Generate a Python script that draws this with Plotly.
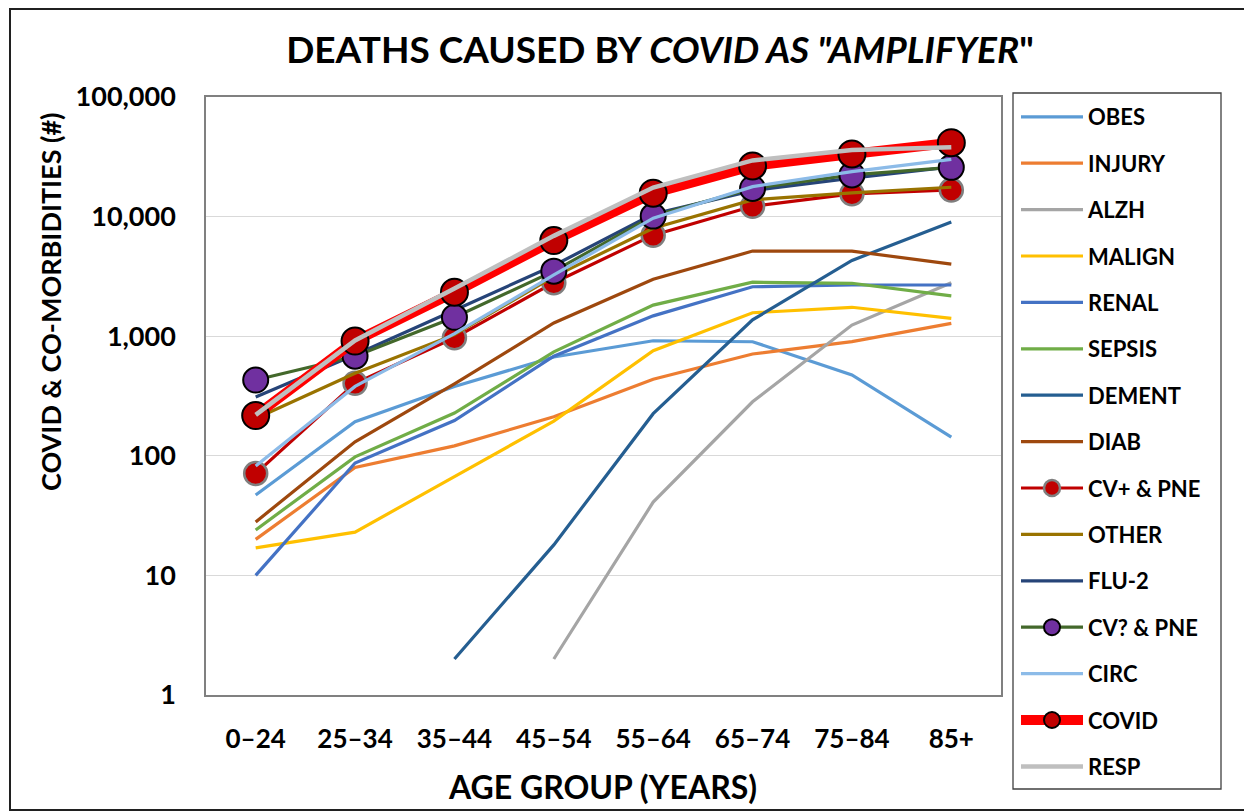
import plotly.graph_objects as go

# ---- data ----
age_groups = ["0–24", "25–34", "35–44", "45–54", "55–64", "65–74", "75–84", "85+"]

obes    = [47, 193, 380, 670, 916, 899, 474, 143]
injury  = [20, 80, 121, 212, 436, 710, 900, 1280]
alzh    = [None, None, None, 2, 41, 283, 1240, 2800]
malign  = [17, 23, 67, 195, 757, 1570, 1745, 1410]
renal   = [10, 87, 197, 680, 1480, 2590, 2680, 2680]
sepsis  = [24, 98, 228, 740, 1820, 2830, 2770, 2170]
dement  = [None, None, 2, 18, 225, 1370, 4300, 9000]
diab    = [28, 131, 400, 1290, 2990, 5150, 5150, 4000]
cv_plus = [71, 404, 970, 2800, 7000, 12200, 15500, 16700]
other   = [205, 490, 1030, 3150, 8000, 13800, 15800, 17600]
flu2    = [310, 700, 1650, 3900, 10500, 16500, 21000, 26000]
cv_q    = [430, 680, 1440, 3500, 10100, 17200, 22300, 25800]
circ    = [82, 380, 1050, 3250, 9700, 17800, 23800, 30100]
covid   = [217, 910, 2330, 6300, 15700, 26500, 33400, 41500]
resp    = [220, 920, 2500, 6900, 17500, 29500, 36000, 38000]

y_tickvals = [1, 10, 100, 1000, 10000, 100000]
y_ticktext = ["1", "10", "100", "1,000", "10,000", "100,000"]

FONT = "Lato"

OFF = 8                     # page body margin offset
W, H = 1252 - OFF, 812 - OFF
L, R, T, B = 206, 1001, 97, 695   # plot area in page pixels

def px_x(p):
    return (p - L) / (R - L)

def px_y(p):
    return (B - p) / (B - T)

fig = go.Figure()

def add_line(name, vals, color, width=3.2, marker=None):
    kw = dict(
        x=age_groups, y=vals, name=name, mode="lines",
        line=dict(color=color, width=width),
        legendgroup=name, connectgaps=False,
    )
    if marker is not None:
        kw["mode"] = "lines+markers"
        kw["marker"] = marker
    fig.add_trace(go.Scatter(**kw))

add_line("OBES", obes, "#5B9BD5")
add_line("INJURY", injury, "#ED7D31")
add_line("ALZH", alzh, "#A5A5A5")
add_line("MALIGN", malign, "#FFC000")
add_line("RENAL", renal, "#4472C4")
add_line("SEPSIS", sepsis, "#70AD47")
add_line("DEMENT", dement, "#255E91")
add_line("DIAB", diab, "#9E480E")
add_line("CV+ & PNE", cv_plus, "#C00000", 3.2,
         dict(size=23, color="#C00000", line=dict(color="#7F7F7F", width=2.5)))
add_line("OTHER", other, "#997300")
add_line("FLU-2", flu2, "#264478")
add_line("CV? & PNE", cv_q, "#43682B", 3.2,
         dict(size=25, color="#7030A0", line=dict(color="#000000", width=2)))
add_line("CIRC", circ, "#8CBBE8")
add_line("COVID", covid, "#FF0000", 10,
         dict(size=27, color="#C00000", line=dict(color="#000000", width=2)))
add_line("RESP", resp, "#BFBFBF", 4.5)

fig.update_layout(
    width=W, height=H, autosize=False,
    margin=dict(l=L - OFF, r=W - (R - OFF), t=T - OFF, b=H - (B - OFF), pad=0),
    paper_bgcolor="white", plot_bgcolor="white",
    font=dict(family=FONT, color="#000000"),
    showlegend=True,
    legend=dict(
        x=px_x(1016), y=px_y(96), xanchor="left", yanchor="top",
        font=dict(family=FONT, size=22, color="#000000", weight="bold"),
        itemwidth=62, tracegroupgap=14.8, traceorder="grouped",
        bgcolor="rgba(0,0,0,0)", borderwidth=0, maxheight=760,
    ),
    title=dict(
        text='DEATHS CAUSED BY <i>COVID AS "AMPLIFYER</i>"',
        x=(660 - OFF) / W, y=1 - (50 - OFF) / H, xanchor="center", yanchor="middle",
        xref="container", yref="container",
        font=dict(family=FONT, size=37, color="#000000", weight="bold"),
    ),
)

fig.update_xaxes(
    type="category", range=[-0.5, 7.5],
    showgrid=False, zeroline=False,
    showline=True, linecolor="#808080", linewidth=1.5, mirror=True,
    ticks="", ticklabelstandoff=20,
    tickfont=dict(family=FONT, size=26, color="#000000", weight="bold"),
)
fig.update_yaxes(
    type="log", range=[0, 5],
    tickvals=y_tickvals, ticktext=y_ticktext,
    showgrid=True, gridcolor="#D9D9D9", gridwidth=1.3,
    zeroline=False,
    showline=True, linecolor="#808080", linewidth=1.5, mirror=True,
    ticks="", ticklabelstandoff=23,
    tickfont=dict(family=FONT, size=27, color="#000000", weight="bold"),
)

# axis titles
fig.add_annotation(
    text="COVID &amp; CO-MORBIDITIES (#)", textangle=-90,
    xref="paper", yref="paper", x=px_x(50), y=px_y(302),
    xanchor="center", yanchor="middle", showarrow=False,
    font=dict(family=FONT, size=27, color="#000000", weight="bold"),
)
fig.add_annotation(
    text="AGE GROUP (YEARS)",
    xref="paper", yref="paper", x=px_x(602), y=px_y(787),
    xanchor="center", yanchor="middle", showarrow=False,
    font=dict(family=FONT, size=32, color="#000000", weight="bold"),
)

# legend box and outer chart border
fig.add_shape(type="rect", xref="paper", yref="paper",
              x0=px_x(1013), x1=px_x(1221), y0=px_y(789), y1=px_y(93),
              line=dict(color="#404040", width=1.3), fillcolor="rgba(0,0,0,0)")
fig.add_shape(type="rect", xref="paper", yref="paper",
              x0=px_x(10), x1=px_x(1248), y0=px_y(810), y1=px_y(9),
              line=dict(color="#202020", width=2), fillcolor="rgba(0,0,0,0)")

fig.write_html("out.html")
